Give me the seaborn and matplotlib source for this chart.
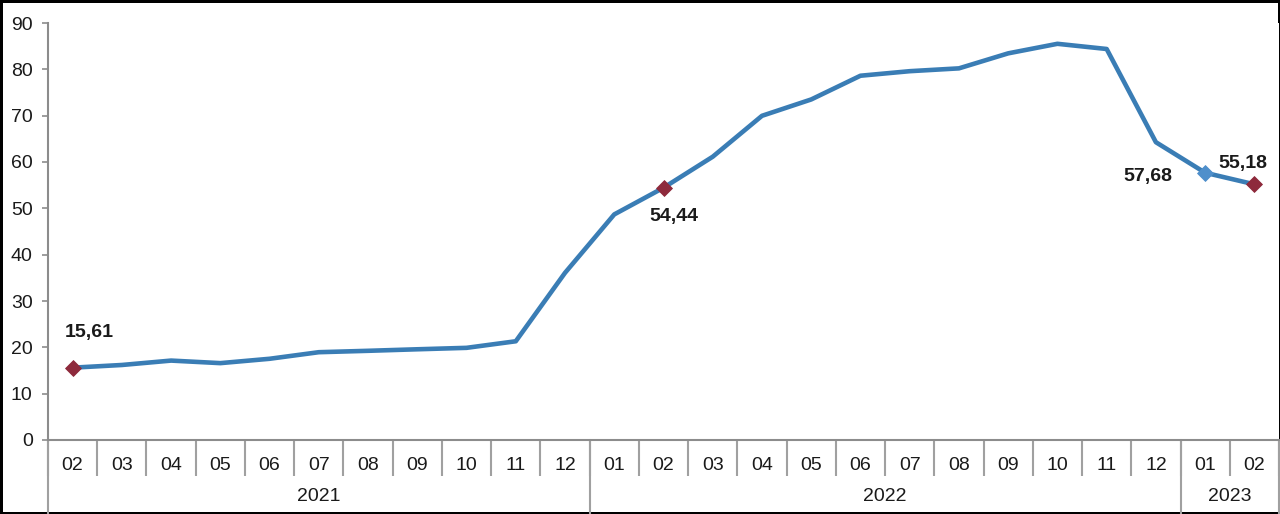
import matplotlib
matplotlib.use("Agg")
import matplotlib.pyplot as plt
import matplotlib.transforms as mtransforms
import seaborn as sns
import pandas as pd
import numpy as np

months = ["02", "03", "04", "05", "06", "07", "08", "09", "10", "11", "12",
          "01", "02", "03", "04", "05", "06", "07", "08", "09", "10", "11", "12",
          "01", "02"]
years = ["2021"] * 11 + ["2022"] * 12 + ["2023"] * 2
values = [15.61, 16.19, 17.14, 16.59, 17.53, 18.95, 19.25, 19.58, 19.89, 21.31, 36.08,
          48.69, 54.44, 61.14, 69.97, 73.50, 78.62, 79.60, 80.21, 83.45, 85.51, 84.39, 64.27,
          57.68, 55.18]
labeled_idx = [0, 12, 23, 24]
labeled_text = ["15,61", "54,44", "57,68", "55,18"]

df = pd.DataFrame({"i": np.arange(len(values)), "v": values, "month": months, "year": years})

sns.set_theme(style="white")
plt.rcParams["font.family"] = ["Liberation Sans", "DejaVu Sans"]

W, H = 1280, 514
fig = plt.figure(figsize=(W / 100, H / 100), dpi=100, facecolor="white",
                 edgecolor="black", linewidth=2.5)
ax = fig.add_axes([48 / W, (H - 440) / H, (1279 - 48) / W, (440 - 23) / H])

line_color = "#3A7DB5"
sns.lineplot(data=df, x="i", y="v", ax=ax, color=line_color, linewidth=3.3, zorder=3)

red_pts = df.iloc[[0, 12, 24]]
blue_pts = df.iloc[[23]]
sns.scatterplot(data=red_pts, x="i", y="v", ax=ax, marker="D", s=65, color="#8E2A3C",
                edgecolor="#8E2A3C", zorder=4)
sns.scatterplot(data=blue_pts, x="i", y="v", ax=ax, marker="D", s=65, color="#4F8FCB",
                edgecolor="#4F8FCB", zorder=4)

ax.set_xlim(-0.5, len(values) - 0.5)
ax.set_ylim(0, 90)
ax.set_yticks(range(0, 91, 10))
ax.set_xlabel("")
ax.set_ylabel("")

for s in ["top", "right"]:
    ax.spines[s].set_visible(False)
for s in ["left", "bottom"]:
    ax.spines[s].set_color("#8C8C8C")
    ax.spines[s].set_linewidth(1.5)

fs = 14
ax.tick_params(axis="y", which="major", left=True, length=4, width=1.2, color="#8C8C8C",
               pad=7, labelsize=fs, labelcolor="#1a1a1a")
ax.set_xticks(df["i"])
ax.set_xticklabels(df["month"])
ax.set_xticks(np.arange(-0.5, len(values), 1.0), minor=True)
ax.tick_params(axis="x", which="major", bottom=False, length=0, pad=12, labelsize=fs,
               labelcolor="#1a1a1a")
ax.tick_params(axis="x", which="minor", bottom=True, length=26, width=1.5, color="#A0A0A0")

# year grouping
trans = mtransforms.blended_transform_factory(ax.transData, ax.transAxes)
bounds = [0]
for k in range(1, len(years)):
    if years[k] != years[k - 1]:
        bounds.append(k)
bounds.append(len(years))
for b in bounds:
    ax.plot([b - 0.5, b - 0.5], [0, -0.18], transform=trans, color="#A0A0A0",
            linewidth=1.5, clip_on=False)
for a, b in zip(bounds[:-1], bounds[1:]):
    ax.text((a + b - 1) / 2, -0.135, years[a], transform=trans, ha="center", va="center",
            fontsize=fs, color="#1a1a1a")

offsets = {0: (17, 35), 12: (10, -29), 23: (-57, -4), 24: (-12, 21)}
for idx, txt in zip(labeled_idx, labeled_text):
    dx, dy = offsets[idx]
    ax.annotate(txt, (idx, values[idx]), xytext=(dx * 0.72, dy * 0.72),
                textcoords="offset points", ha="center", va="center",
                fontsize=fs, fontweight="bold", color="#1a1a1a", zorder=5)

fig.savefig("out.png", dpi=100, facecolor="white", edgecolor="black")
